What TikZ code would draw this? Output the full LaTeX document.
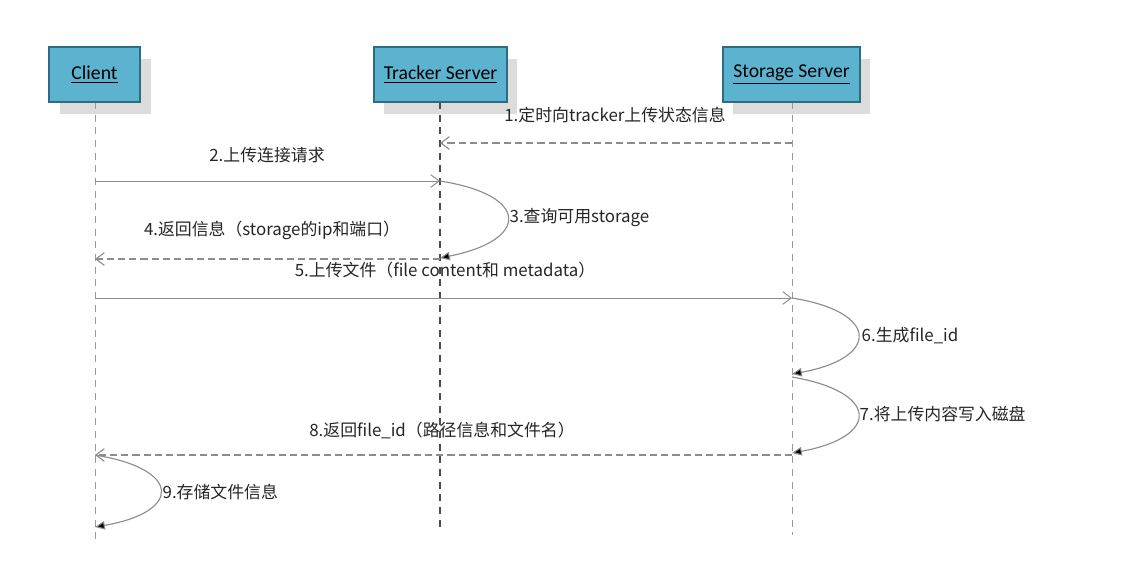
\documentclass[tikz,border=0pt]{standalone}
\usepackage{fontspec}
\setmainfont{Noto Sans CJK SC}
\newfontfamily\boxfont{Carlito}
\usetikzlibrary{arrows.meta}
\definecolor{boxfill}{HTML}{5BB3CF}
\definecolor{boxedge}{HTML}{2E6C82}
\definecolor{shadowc}{HTML}{DCDCDC}
\definecolor{msgc}{HTML}{8C8C8C}
\definecolor{lifec}{HTML}{9A9A9A}
\tikzset{
  actor/.style={draw=boxedge, line width=0.8pt, fill=boxfill, minimum width=#1, minimum height=55*0.025cm, inner sep=0pt, font=\boxfont\fontsize{14pt}{16pt}\selectfont},
  shadowbox/.style={fill=shadowc, draw=none, minimum width=#1, minimum height=55*0.025cm, inner sep=0pt},
  lifeline/.style={draw=lifec, dash pattern=on 5pt off 4pt, line width=0.7pt},
  darklife/.style={draw=black!70, dash pattern=on 5pt off 4pt, line width=0.8pt},
  msg/.style={draw=msgc, line width=0.7pt, -{Straight Barb[length=6pt,width=9pt]}},
  ret/.style={draw=msgc, line width=0.8pt, dash pattern=on 5pt off 3pt, -{Straight Barb[length=6pt,width=9pt]}},
  selfloop/.style={draw=msgc, line width=0.8pt, -{Triangle[length=7pt,width=6pt,fill=black]}},
  lbl/.style={font=\fontsize{12pt}{14pt}\selectfont, text=black!85, inner sep=1pt}
}
\begin{document}
\begin{tikzpicture}[x=0.025cm,y=-0.025cm]
\useasboundingbox[fill=white] (0,0) rectangle (1132,574);
% shadows
\node[shadowbox=91*0.025cm] (clientsh) at (105,86) {};
\node[shadowbox=133*0.025cm] (trackersh) at (450,86) {};
\node[shadowbox=137*0.025cm] (storagesh) at (801,86) {};
% lifelines
\coordinate (cend) at (95,540);
\coordinate (tend) at (440,532);
\coordinate (send) at (792,535);
\draw[lifeline] (95,102) -- (cend);
\draw[darklife] (440,102) -- (tend);
\draw[lifeline] (792,102) -- (send);
% actors
\node[actor=91*0.025cm] (client) at (94.5,74.5) {\underline{Client}};
\node[actor=133*0.025cm] (tracker) at (440.5,74.5) {\underline{Tracker Server}};
\node[actor=137*0.025cm] (storage) at (791.5,74.5) {\underline{Storage Server}};
% message points
\coordinate (s1) at (792,143); \coordinate (t1) at (440,143);
\coordinate (c2) at (95,181);  \coordinate (t2) at (440,181);
\coordinate (t3) at (440,258);
\coordinate (t4) at (440,259); \coordinate (c4) at (95,259);
\coordinate (c5) at (95,298);  \coordinate (s5) at (792,298);
\coordinate (s6) at (792,374);
\coordinate (s7a) at (792,377); \coordinate (s7) at (792,453);
\coordinate (s8) at (792,455); \coordinate (c8) at (95,455);
\coordinate (c9) at (95,527);
% messages
\draw[ret] (s1) -- (t1);
\node[lbl] (l1) at (615,115) {1.定时向tracker上传状态信息};
\draw[msg] (c2) -- (t2);
\node[lbl] (l2) at (267,155) {2.上传连接请求};
\draw[selfloop] (t2) .. controls (530,195) and (530,240) .. (t3);
\node[lbl, anchor=west] (l3) at (508,218) {3.查询可用storage};
\draw[ret] (t4) -- (c4);
\node[lbl] (l4) at (272,230) {4.返回信息（storage的ip和端口）};
\draw[msg] (c5) -- (s5);
\node[lbl] (l5) at (445,270) {5.上传文件（file content和 metadata）};
\draw[selfloop] (s5) .. controls (880,312) and (880,358) .. (s6);
\node[lbl, anchor=west] (l6) at (860,336) {6.生成file\_id};
\draw[selfloop] (s7a) .. controls (880,392) and (880,437) .. (s7);
\node[lbl, anchor=west] (l7) at (858,414) {7.将上传内容写入磁盘};
\draw[ret] (s8) -- (c8);
\node[lbl] (l8) at (442,430) {8.返回file\_id（路径信息和文件名）};
\draw[selfloop] (c8) .. controls (182,469) and (182,512) .. (c9);
\node[lbl, anchor=west] (l9) at (161,492) {9.存储文件信息};
\end{tikzpicture}
\end{document}
